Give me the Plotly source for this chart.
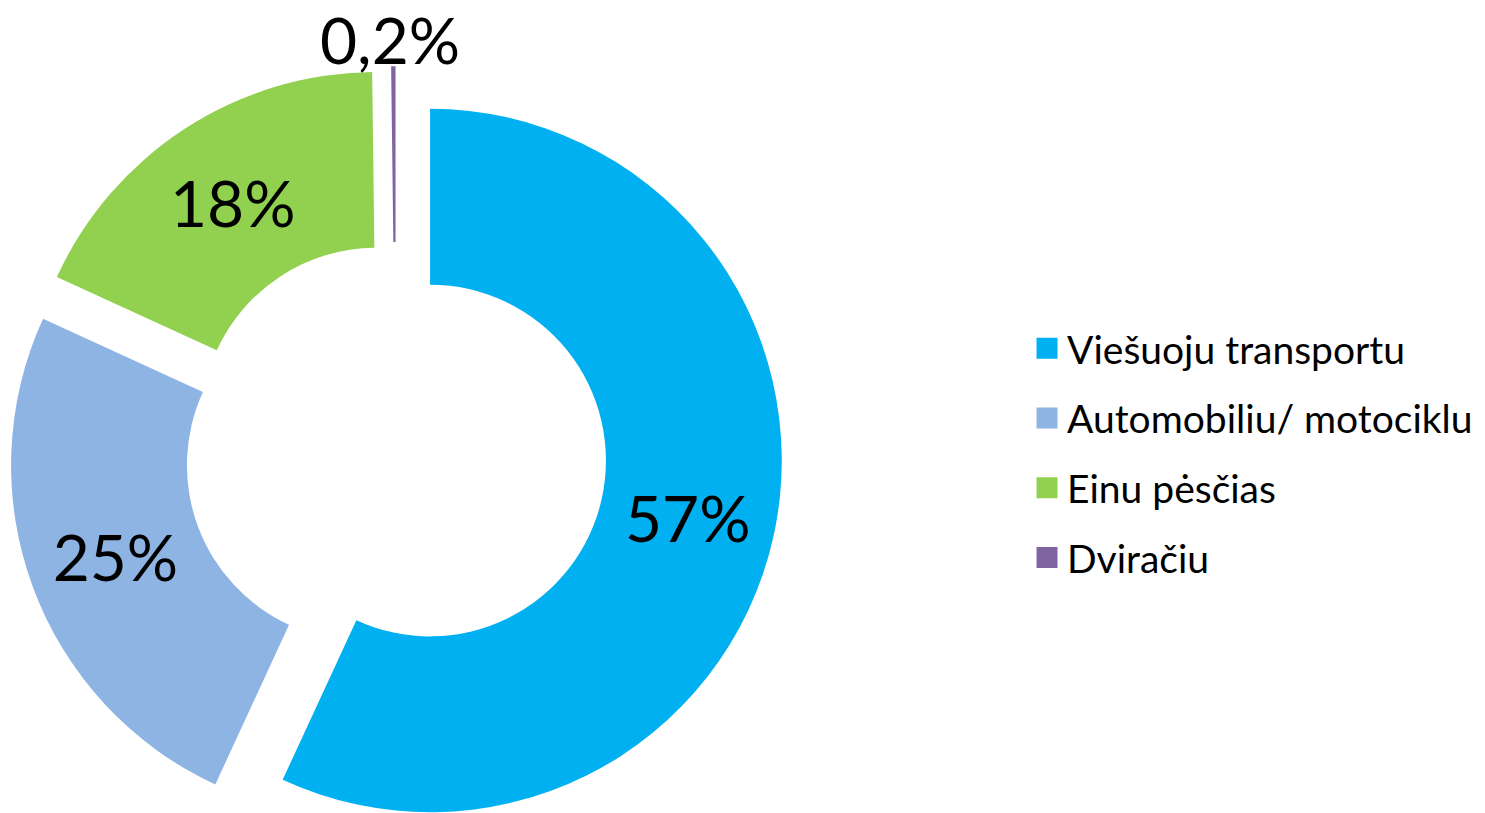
import plotly.graph_objects as go

labels = ["Viešuoju transportu", "Automobiliu/ motociklu", "Einu pėsčias", "Dviračiu"]
values = [57, 25, 18, 0.2]
text_labels = ["57%", "25%", "18%", "0,2%"]
colors = ["#00B0F0", "#8EB4E3", "#92D050", "#8064A2"]

FONT = "Lato"
FIG_W, FIG_H = 1485, 840
DOM_X = [0.006, 0.527]
DOM_Y = [0.0, 774 / FIG_H]

fig = go.Figure()
fig.add_trace(go.Pie(
    labels=labels, values=values, text=text_labels, textinfo="text",
    sort=False, direction="clockwise", rotation=0, hole=0.5,
    pull=[0.1, 0.1, 0.1, 0.1],
    marker=dict(colors=colors, line=dict(width=0)),
    textposition=["inside", "inside", "inside", "none"],
    insidetextorientation="horizontal",
    textfont=dict(family=FONT, size=64, color="black"),
    showlegend=False, hoverinfo="label+percent",
    domain=dict(x=DOM_X, y=DOM_Y),
))

# label of the tiny slice, placed just above the top of the ring
fig.add_annotation(
    text=text_labels[3], xref="paper", yref="paper",
    x=sum(DOM_X) / 2, y=DOM_Y[1], xanchor="center", yanchor="bottom",
    xshift=-6, yshift=-14, showarrow=False,
    font=dict(family=FONT, size=64, color="black"),
)

for i, (lab, col) in enumerate(zip(labels, colors)):
    fig.add_trace(go.Scatter(
        x=[None], y=[None], mode="markers", name=lab,
        legendgroup=f"g{i}",
        marker=dict(symbol="square", size=16, color=col, line=dict(color=col, width=5)),
        showlegend=True, hoverinfo="skip",
    ))

fig.update_layout(
    width=FIG_W, height=FIG_H,
    margin=dict(l=0, r=0, t=0, b=0),
    paper_bgcolor="white", plot_bgcolor="white",
    xaxis=dict(visible=False), yaxis=dict(visible=False),
    legend=dict(
        x=0.6916, y=1 - 453 / FIG_H, xanchor="left", yanchor="middle",
        font=dict(family=FONT, size=39, color="black"),
        tracegroupgap=16, traceorder="grouped",
        bgcolor="rgba(0,0,0,0)",
    ),
)

fig.write_html(
    "out.html",
    config={"displayModeBar": False},
    post_script="document.body.style.margin='0';document.body.style.overflow='hidden';"
                "document.documentElement.style.overflow='hidden';",
)
